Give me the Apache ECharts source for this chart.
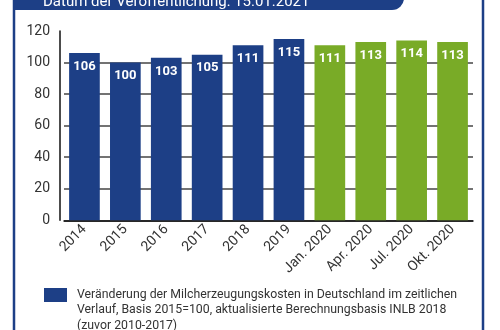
<!DOCTYPE html>
<html><head><meta charset="utf-8">
<script src="https://cdn.jsdelivr.net/npm/echarts@6/dist/echarts.min.js"></script>
<style>html,body{margin:0;padding:0;background:#fff}#c{width:500px;height:330px}</style>
</head><body><div id="c"></div>
<script>
const categories = ['2014','2015','2016','2017','2018','2019','Jan. 2020','Apr. 2020','Jul. 2020','Okt. 2020'];
const annualValues = [106,100,103,105,111,115,'-','-','-','-'];
const quarterValues = ['-','-','-','-','-','-',111,113,114,113];
const yTicks = [0,20,40,60,80,100,120];
const legendLines = ['Veränderung der Milcherzeugungskosten in Deutschland im zeitlichen', 'Verlauf, Basis 2015=100, aktualisierte Berechnungsbasis INLB 2018', '(zuvor 2010-2017)'];
const bannerText = 'Datum der Veröffentlichung: 15.01.2021';

const BLUE = '#1d3f86', GREEN = '#79ab27';
const FONT = 'Roboto';
const chart = echarts.init(document.getElementById('c'), null, {renderer:'canvas'});
const labelCfg = {show:true, position:'insideTop', distance:7, color:'#fff', fontFamily:FONT, fontWeight:'bold', fontSize:13};
const seriesName = legendLines.join(' ');
chart.setOption({
  animation:false,
  textStyle:{fontFamily:FONT},
  grid:{left:64, width:409, top:31, bottom:109.7},
  xAxis:{type:'category', data:categories,
    axisLine:{lineStyle:{color:'#111', width:1.5}}, axisTick:{show:false},
    axisLabel:{rotate:45, margin:7, color:'#333', fontSize:14, fontFamily:FONT, interval:0}},
  yAxis:{type:'value', min:yTicks[0], max:yTicks[yTicks.length-1], interval:20, offset:4,
    axisLine:{show:true, lineStyle:{color:'#111', width:1.5}}, axisTick:{show:false},
    axisLabel:{color:'#333', fontSize:14, margin:10, fontFamily:FONT},
    splitLine:{lineStyle:{color:['#444','#444','#444','#444','#444','#444','rgba(0,0,0,0)'], width:1.5}}},
  legend:{data:[seriesName], left:44, top:288, itemWidth:23, itemHeight:14, icon:'rect', padding:0,
    formatter:()=>legendLines[0],
    textStyle:{color:'#333', fontSize:12.3, fontFamily:FONT, padding:[0,0,0,5]}},
  series:[
    {name:seriesName, type:'bar', data:annualValues, barCategoryGap:'25%', barGap:'-100%', itemStyle:{color:BLUE}, label:labelCfg},
    {name:'Quartal', type:'bar', data:quarterValues, barCategoryGap:'25%', barGap:'-100%', itemStyle:{color:GREEN}, label:labelCfg}
  ],
  graphic:[
    {type:'rect', shape:{x:14, y:-10, width:469, height:400}, style:{fill:'none', stroke:BLUE, lineWidth:2.5}},
    {type:'rect', shape:{x:13, y:-30, width:391, height:40, r:[0,0,12,0]}, style:{fill:BLUE}},
    {type:'text', x:43, y:2, style:{text:bannerText, fill:'#fff', fontSize:15, fontFamily:FONT, verticalAlign:'middle'}},
    {type:'text', x:77, y:302.5, style:{text:legendLines.slice(1).join('\n'), fill:'#333', fontSize:12.3, lineHeight:15.5, fontFamily:FONT, verticalAlign:'top'}}
  ]
});
</script></body></html>
